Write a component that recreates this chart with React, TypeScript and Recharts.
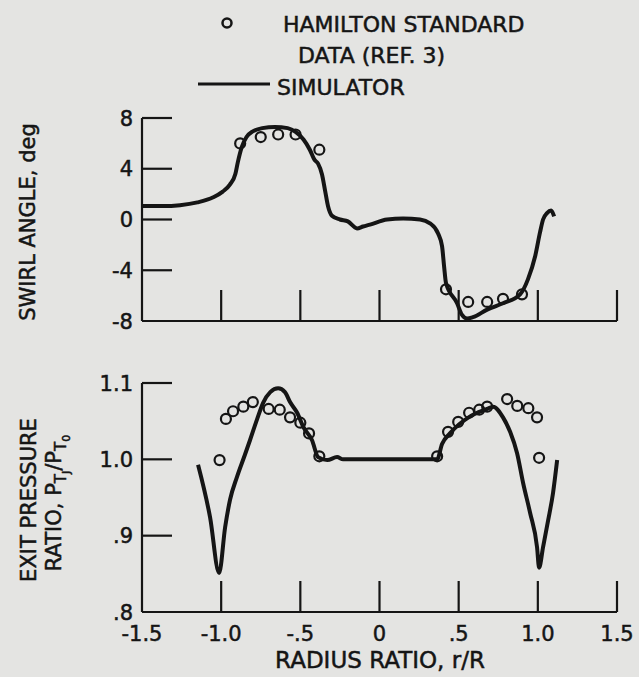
import { ComposedChart, Line, Scatter, XAxis, YAxis } from "recharts"

const INK = "#151515"
const BG = "#e4e4e2"
const FONT = "'DejaVu Sans', 'Liberation Sans', sans-serif"

// radius ratio axis
const xTicks = [-1.5, -1, -0.5, 0, 0.5, 1, 1.5]
const xTickLabels = ["-1.5", "-1.0", "-.5", "0", ".5", "1.0", "1.5"]

// swirl angle axis
const swirlTicks = [-8, -4, 0, 4, 8]
const swirlTickLabels = ["-8", "-4", "0", "4", "8"]

// exit pressure ratio axis
const pressTicks = [0.8, 0.9, 1.0, 1.1]
const pressTickLabels = [".8", ".9", "1.0", "1.1"]

// swirl angle, Hamilton Standard data (ref. 3)
const swirlDataR = [-0.88, -0.75, -0.64, -0.53, -0.38, 0.42, 0.56, 0.68, 0.78, 0.9]
const swirlDataDeg = [6.0, 6.5, 6.7, 6.7, 5.5, -5.5, -6.5, -6.5, -6.25, -5.9]

// swirl angle, simulator
const swirlSimR = [
  -1.5, -1.37, -1.26, -1.15, -1.05, -0.99, -0.945, -0.91, -0.895, -0.87, -0.84, -0.8, -0.74,
  -0.66, -0.58, -0.53, -0.48, -0.44, -0.41, -0.388, -0.363, -0.344, -0.325, -0.3, -0.25, -0.2,
  -0.142, -0.104, -0.06, 0.048, 0.149, 0.256, 0.319, 0.37, 0.395, 0.408, 0.42, 0.49, 0.52, 0.553,
  0.59, 0.68, 0.78, 0.888, 0.938, 0.983, 1.014, 1.033, 1.058, 1.084, 1.103,
]
const swirlSimDeg = [
  1.06, 1.06, 1.13, 1.35, 1.75, 2.2, 2.75, 3.6, 4.5, 5.7, 6.5, 6.95, 7.2,
  7.3, 7.2, 6.9, 6.3, 5.5, 4.7, 4.4, 3.55, 2.3, 1.05, 0.3, 0, -0.15,
  -0.7, -0.55, -0.4, 0, 0.07, 0, -0.3, -1.1, -2.1, -3.7, -5.0, -6.6, -7.5, -7.8,
  -7.7, -7.1, -6.6, -5.9, -4.7, -2.9, -1.0, 0, 0.5, 0.7, 0.25,
]

// exit pressure ratio, Hamilton Standard data (ref. 3)
const pressDataR = [
  -1.01, -0.97, -0.925, -0.86, -0.8, -0.7, -0.63, -0.565, -0.5, -0.445, -0.38,
  0.364, 0.433, 0.497, 0.566, 0.63, 0.68, 0.806, 0.87, 0.94, 0.995, 1.008,
]
const pressDataRatio = [
  0.999, 1.053, 1.063, 1.069, 1.075, 1.066, 1.065, 1.055, 1.048, 1.034, 1.004,
  1.004, 1.036, 1.049, 1.061, 1.065, 1.069, 1.079, 1.07, 1.067, 1.055, 1.002,
]

// exit pressure ratio, simulator
const pressSimR = [
  -1.146, -1.07, -1.013, -0.975, -0.944, -0.9, -0.85, -0.818, -0.774, -0.735, -0.69, -0.64,
  -0.597, -0.565, -0.52, -0.48, -0.426, -0.388, -0.33, -0.268, -0.23, -0.2, 0.364, 0.395,
  0.445, 0.57, 0.68, 0.717, 0.78, 0.825, 0.869, 0.907, 0.951, 0.995, 1.008, 1.033, 1.065,
  1.096, 1.122,
]
const pressSimRatio = [
  0.993, 0.924, 0.851, 0.911, 0.947, 0.977, 1.006, 1.025, 1.052, 1.074, 1.088, 1.093,
  1.088, 1.075, 1.061, 1.042, 1.025, 1.003, 0.999, 1.003, 1.0, 1.0, 1.0, 1.02,
  1.034, 1.056, 1.066, 1.069, 1.055, 1.036, 1.008, 0.969, 0.93, 0.885, 0.858, 0.885, 0.92,
  0.956, 0.999,
]

const zip = (xs: number[], ys: number[]) => xs.map((x, i) => ({ x, y: ys[i] }))

const findIdx = (ticks: number[], v: number) => ticks.findIndex((t) => Math.abs(t - v) < 1e-6)

const textStyle = { fontFamily: FONT, fill: INK, stroke: INK, strokeWidth: 0.5 }

// left axis tick: mark drawn inward, label outside
function YTick(props: any) {
  const { x, y, payload, ticks, labels } = props
  const i = findIdx(ticks, payload.value)
  return (
    <g>
      {i > 0 && <line x1={x} x2={x + 30} y1={y} y2={y} stroke={INK} strokeWidth={2.2} />}
      <text x={x - 9} y={y} dy="0.36em" textAnchor="end" fontSize={21} {...textStyle}>
        {labels[i]}
      </text>
    </g>
  )
}

// bottom axis tick: mark drawn upward
function XTick(props: any) {
  const { x, y, payload, showLabels } = props
  const i = findIdx(xTicks, payload.value)
  return (
    <g>
      {i > 0 && <line x1={x} x2={x} y1={y} y2={y - 31} stroke={INK} strokeWidth={2.2} />}
      {showLabels && (
        <text x={x} y={y + 29} textAnchor="middle" fontSize={21} {...textStyle}>
          {xTickLabels[i]}
        </text>
      )}
    </g>
  )
}

const OpenCircle = (p: any) => (
  <circle cx={p.cx} cy={p.cy} r={5} fill="none" stroke={INK} strokeWidth={2.2} />
)

interface PanelProps {
  top: number
  height: number
  plotTop: number
  xAxisHeight: number
  domain: [number, number]
  yTicks: number[]
  yLabels: string[]
  sim: { x: number; y: number }[]
  data: { x: number; y: number }[]
  showXLabels: boolean
}

function Panel({ top, height, plotTop, xAxisHeight, domain, yTicks, yLabels, sim, data, showXLabels }: PanelProps) {
  return (
    <div style={{ position: "absolute", left: 0, top }}>
      <ComposedChart width={639} height={height} margin={{ top: plotTop, right: 22, bottom: 0, left: 82 }}>
        <XAxis
          dataKey="x"
          type="number"
          domain={[-1.5, 1.5]}
          ticks={xTicks}
          interval={0}
          height={xAxisHeight}
          tickSize={0}
          tickMargin={0}
          axisLine={{ stroke: INK, strokeWidth: 2.2 }}
          tickLine={false}
          tick={(p: any) => <XTick {...p} showLabels={showXLabels} />}
          allowDataOverflow
        />
        <YAxis
          type="number"
          domain={domain}
          ticks={yTicks}
          interval={0}
          width={60}
          tickSize={0}
          tickMargin={0}
          axisLine={{ stroke: INK, strokeWidth: 2.2 }}
          tickLine={false}
          tick={(p: any) => <YTick {...p} ticks={yTicks} labels={yLabels} />}
          allowDataOverflow
        />
        <Line
          data={sim}
          dataKey="y"
          type="monotone"
          stroke={INK}
          strokeWidth={4}
          dot={false}
          activeDot={false}
          isAnimationActive={false}
        />
        <Scatter data={data} dataKey="y" shape={OpenCircle} isAnimationActive={false} />
      </ComposedChart>
    </div>
  )
}

export default function App() {
  const swirlSim = zip(swirlSimR, swirlSimDeg)
  const swirlData = zip(swirlDataR, swirlDataDeg)
  const pressSim = zip(pressSimR, pressSimRatio)
  const pressData = zip(pressDataR, pressDataRatio)

  return (
    <div style={{ position: "absolute", left: 0, top: 0, width: 639, height: 677, background: BG, overflow: "hidden" }}>
      <svg width={639} height={677} style={{ position: "absolute", left: 0, top: 0 }}>
        <g {...textStyle}>
          {/* legend */}
          <circle cx={227} cy={23} r={4.5} fill="none" stroke={INK} strokeWidth={2.5} />
          <text x={283} y={32} fontSize={22}>HAMILTON STANDARD</text>
          <text x={298} y={63} fontSize={22}>DATA (REF. 3)</text>
          <line x1={198} x2={270} y1={84} y2={84} stroke={INK} strokeWidth={3} />
          <text x={277} y={95} fontSize={22}>SIMULATOR</text>

          {/* axis titles */}
          <text transform="translate(35,222) rotate(-90)" textAnchor="middle" fontSize={21}>
            SWIRL ANGLE, deg
          </text>
          <text transform="translate(36,500) rotate(-90)" textAnchor="middle" fontSize={21}>
            EXIT PRESSURE
          </text>
          <text transform="translate(61,503) rotate(-90)" textAnchor="middle" fontSize={21}>
            RATIO, P
            <tspan fontSize={15} dy={5}>T</tspan>
            <tspan fontSize={11} dy={4}>J</tspan>
            <tspan fontSize={21} dy={-9}>/P</tspan>
            <tspan fontSize={15} dy={5}>T</tspan>
            <tspan fontSize={11} dy={4}>0</tspan>
          </text>
          <text x={380} y={668} textAnchor="middle" fontSize={23}>
            RADIUS RATIO, r/R
          </text>
        </g>
      </svg>

      <Panel
        top={0}
        height={340}
        plotTop={118}
        xAxisHeight={19}
        domain={[-8, 8]}
        yTicks={swirlTicks}
        yLabels={swirlTickLabels}
        sim={swirlSim}
        data={swirlData}
        showXLabels={false}
      />
      <Panel
        top={340}
        height={337}
        plotTop={43}
        xAxisHeight={65}
        domain={[0.8, 1.1]}
        yTicks={pressTicks}
        yLabels={pressTickLabels}
        sim={pressSim}
        data={pressData}
        showXLabels={true}
      />
    </div>
  )
}
